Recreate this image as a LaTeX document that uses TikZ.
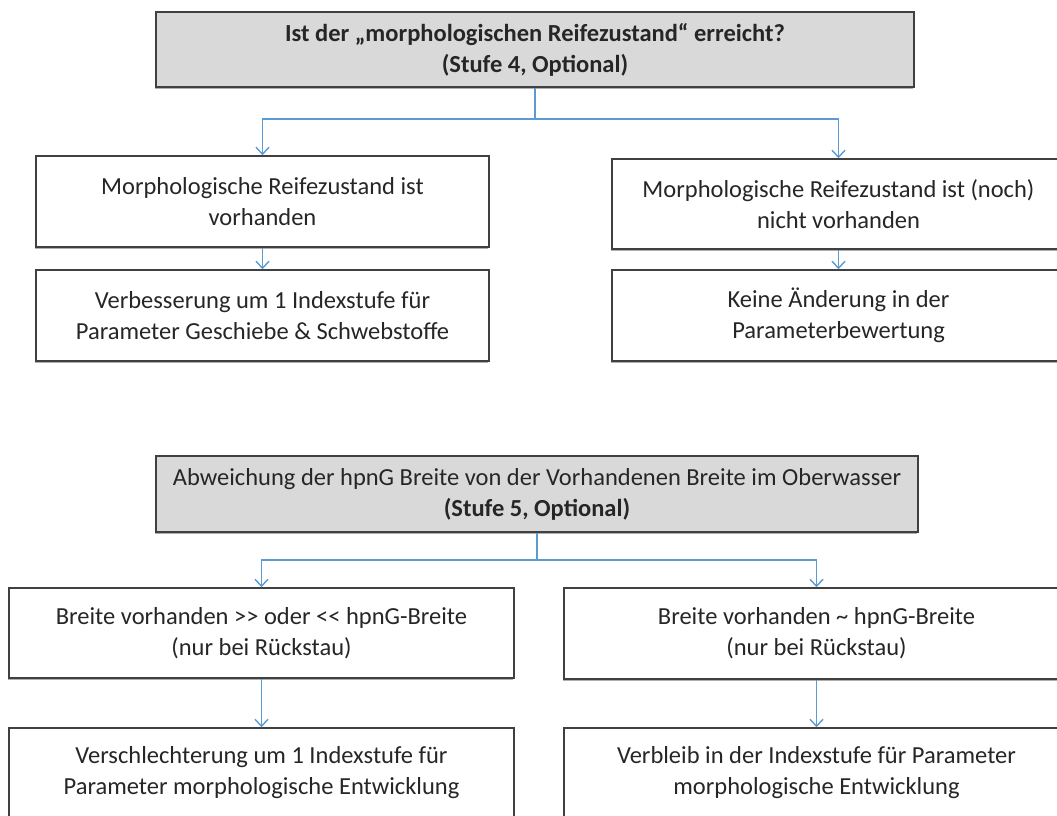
\documentclass[tikz,border=0pt]{standalone}
\usepackage{fontspec}
\setmainfont{Carlito}
\usetikzlibrary{arrows.meta,shadows}
\definecolor{conn}{RGB}{91,155,213}
\definecolor{hdr}{RGB}{217,217,217}
\definecolor{txt}{RGB}{38,38,38}
\tikzset{
  box/.style={rectangle, draw=black!75, line width=1.5pt, fill=white, align=center,
    text=txt, font=\fontsize{24.5}{31}\selectfont, inner sep=0pt,
    drop shadow={shadow xshift=-0.8pt, shadow yshift=-1.6pt, opacity=0.45, fill=black!70}},
  header/.style={box, fill=hdr},
  link/.style={draw=conn, line width=1.4pt},
  arr/.style={link, -{Straight Barb[length=7pt,width=13pt,line width=1.4pt]}}
}
\begin{document}
\begin{tikzpicture}[x=1pt,y=-1pt]
\useasboundingbox (0,0) rectangle (1057,816);
\clip (0,0) rectangle (1057,816);
% --- Stufe 4 ---
\node[header, minimum width=758pt, minimum height=75pt] (t1) at (535,49.5)
  {\bfseries Ist der „morphologischen Reifezustand“ erreicht?\\\bfseries(Stufe 4, Optional)};
\node[box, minimum width=453pt, minimum height=91pt] (l1) at (262.5,201.5)
  {Morphologische Reifezustand ist\\vorhanden};
\node[box, minimum width=453pt, minimum height=90pt] (r1) at (838.5,204)
  {Morphologische Reifezustand ist (noch)\\nicht vorhanden};
\node[box, minimum width=453pt, minimum height=91pt] (l2) at (262.5,315.5)
  {Verbesserung um 1 Indexstufe für\\Parameter Geschiebe \& Schwebstoffe};
\node[box, minimum width=453pt, minimum height=91pt] (r2) at (838.5,315.5)
  {Keine Änderung in der\\Parameterbewertung};
\coordinate (j1) at (535,119);
\draw[link] (t1.south) -- (j1);
\draw[arr] (j1) -| (l1.north);
\draw[arr] (j1) -| (r1.north);
\draw[arr] (l1.south) -- (l2.north);
\draw[arr] (r1.south) -- (r2.north);
% --- Stufe 5 ---
\node[header, minimum width=762pt, minimum height=76pt] (t2) at (537,494)
  {Abweichung der hpnG Breite von der Vorhandenen Breite im Oberwasser\\\bfseries(Stufe 5, Optional)};
\node[box, minimum width=505pt, minimum height=90pt] (bl1) at (261.5,633)
  {Breite vorhanden >{}> oder <{}< hpnG-Breite\\(nur bei Rückstau)};
\node[box, minimum width=505pt, minimum height=91pt] (br1) at (816.5,633.5)
  {Breite vorhanden \textasciitilde{} hpnG-Breite\\(nur bei Rückstau)};
\node[box, minimum width=505pt, minimum height=90pt] (bl2) at (261.5,773)
  {Verschlechterung um 1 Indexstufe für\\Parameter morphologische Entwicklung};
\node[box, minimum width=505pt, minimum height=90pt] (br2) at (816.5,773)
  {Verbleib in der Indexstufe für Parameter\\morphologische Entwicklung};
\coordinate (j2) at (537,560);
\draw[link] (t2.south) -- (j2);
\draw[arr] (j2) -| (bl1.north);
\draw[arr] (j2) -| (br1.north);
\draw[arr] (bl1.south) -- (bl2.north);
\draw[arr] (br1.south) -- (br2.north);
\end{tikzpicture}
\end{document}
